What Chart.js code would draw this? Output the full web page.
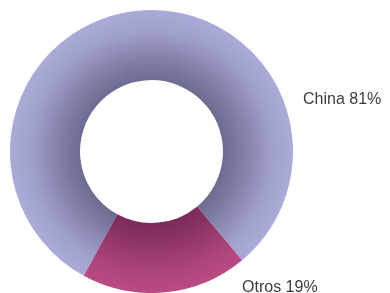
<!DOCTYPE html>
<html>
<head>
<meta charset="utf-8">
<script src="https://cdn.jsdelivr.net/npm/chart.js@4/dist/chart.umd.min.js"></script>
<style>
  html, body { margin: 0; padding: 0; background: #ffffff; }
  #wrap { width: 390px; height: 293px; position: relative; }
</style>
</head>
<body>
<div id="wrap"><canvas id="c" width="390" height="293"></canvas></div>
<script>
const categories = ["China", "Otros"];
const values = [81, 19];
const labelTexts = ["China 81%", "Otros 19%"];
const cutoutRatio = 0.505;

const gradientStops = [
  [[0, "#6c6c92"], [0.35, "#8484ac"], [0.7, "#a0a0cc"], [1, "#ababd9"]],
  [[0, "#7a2b5a"], [0.35, "#923768"], [0.7, "#ab447a"], [1, "#b94c82"]]
];

function sliceFill(ctx) {
  const chart = ctx.chart;
  const i = ctx.dataIndex;
  const area = chart.chartArea;
  const fallback = gradientStops[i][2][1];
  if (!area) return fallback;
  const cx = (area.left + area.right) / 2;
  const cy = (area.top + area.bottom) / 2;
  const R = Math.min(area.right - area.left, area.bottom - area.top) / 2;
  const g = chart.ctx.createRadialGradient(cx, cy, R * cutoutRatio, cx, cy, R);
  gradientStops[i].forEach(s => g.addColorStop(s[0], s[1]));
  return g;
}

const labelPlugin = {
  id: 'sliceLabels',
  afterDatasetsDraw(chart) {
    const meta = chart.getDatasetMeta(0);
    const a = meta.data[0];
    if (!a) return;
    const cx = a.x, cy = a.y, R = a.outerRadius;
    const ctx = chart.ctx;
    ctx.save();
    ctx.font = '16px "Liberation Sans", Arial, sans-serif';
    ctx.fillStyle = '#3c3c3c';
    ctx.textAlign = 'left';
    ctx.textBaseline = 'middle';
    ctx.fillText(labelTexts[0], cx + R + 10, cy - R * 0.366);
    ctx.textBaseline = 'alphabetic';
    ctx.fillText(labelTexts[1], cx + R * 0.64, cy + R * 0.99);
    ctx.restore();
  }
};

new Chart(document.getElementById('c'), {
  type: 'doughnut',
  data: {
    labels: categories,
    datasets: [{
      data: values,
      backgroundColor: sliceFill,
      borderWidth: 0,
      hoverOffset: 0
    }]
  },
  options: {
    responsive: false,
    animation: false,
    cutout: (cutoutRatio * 100) + '%',
    rotation: 208.6,
    layout: { padding: { left: 10, top: 10, right: 97, bottom: 0 } },
    plugins: {
      legend: { display: false },
      tooltip: { enabled: false }
    }
  },
  plugins: [labelPlugin]
});
</script>
</body>
</html>
